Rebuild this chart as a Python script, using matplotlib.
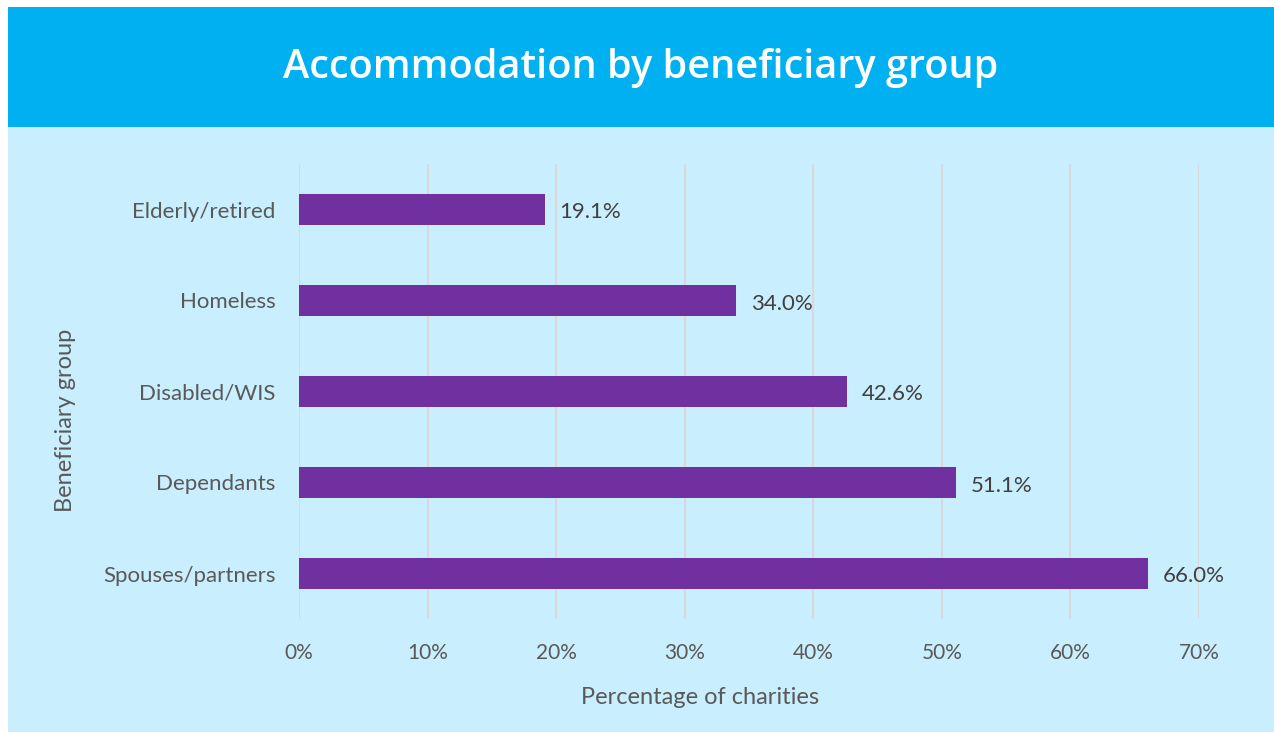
import matplotlib.pyplot as plt
from matplotlib.patches import Rectangle

groups = ["Elderly/retired", "Homeless", "Disabled/WIS", "Dependants", "Spouses/partners"]
values = [19.1, 34.0, 42.6, 51.1, 66.0]
xticks = [0, 10, 20, 30, 40, 50, 60, 70]

W, H = 1274, 732
fig = plt.figure(figsize=(W / 100, H / 100), dpi=100)
fig.patch.set_facecolor("white")

# panel + header (drawn under the axes)
fig.patches.append(Rectangle((8 / W, 0), 1 - 8 / W, 1 - 127 / H, transform=fig.transFigure,
                             facecolor="#C9EEFE", edgecolor="none", zorder=-2))
fig.patches.append(Rectangle((8 / W, 1 - 127 / H), 1 - 8 / W, 120 / H, transform=fig.transFigure,
                             facecolor="#00B0F0", edgecolor="none", zorder=-2))
fig.text(641 / W, 1 - 68 / H, "Accommodation by beneficiary group", color="white",
         fontsize=28.5, fontfamily="Open Sans", fontweight="semibold", ha="center", va="center")

ax = fig.add_axes([299 / W, 1 - 619 / H, 900 / W, 455 / H])
ax.set_facecolor("none")
ypos = list(range(len(groups)))
ax.barh(ypos, values, height=0.35, color="#7030A0", zorder=3)
ax.set_ylim(len(groups) - 0.5, -0.5)
ax.set_xlim(0, 70)
ax.set_xticks(xticks)
ax.set_xticklabels([f"{t}%" for t in xticks])
ax.set_yticks(ypos)
ax.set_yticklabels(groups)
ax.grid(axis="x", color="#D9D9D9", linewidth=1.5, zorder=0)
for s in ax.spines.values():
    s.set_visible(False)
ax.tick_params(length=0, labelcolor="#595959")
ax.tick_params(axis="x", pad=17, labelsize=15)
ax.tick_params(axis="y", pad=17, labelsize=16)
for lab in ax.get_xticklabels() + ax.get_yticklabels():
    lab.set_fontfamily("Lato")

for y, v in zip(ypos, values):
    ax.annotate(f"{v:.1f}%", (v, y), xytext=(15, -3), textcoords="offset pixels",
                va="center", ha="left", fontsize=16, color="#404040", fontfamily="Lato")

fig.text(700 / W, 1 - 697 / H, "Percentage of charities", fontsize=17, color="#595959",
         fontfamily="Lato", ha="center", va="center")
fig.text(65 / W, 1 - 420 / H, "Beneficiary group", fontsize=17, color="#595959",
         fontfamily="Lato", ha="center", va="center", rotation=90)

fig.savefig("out.png", dpi=100)
